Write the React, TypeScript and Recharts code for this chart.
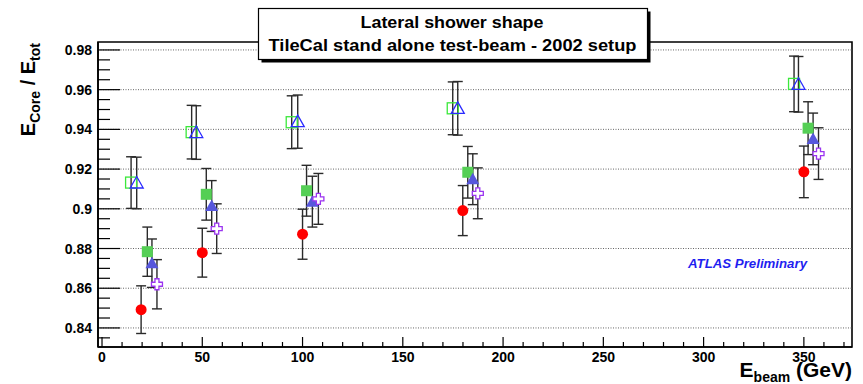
import React from 'react';
import {
  ScatterChart, Scatter, XAxis, YAxis, ErrorBar, ReferenceLine, ReferenceArea, Label,
} from 'recharts';

const FONT = '"Liberation Sans", Arial, Helvetica, sans-serif';

// beam energy (shifted per series for readability), ratio, error
const OPEN_SQ_X = [14.5, 44.7, 94.6, 174.9, 345.1];
const OPEN_SQ_Y = [0.9132, 0.9386, 0.9436, 0.9506, 0.9629];
const OPEN_SQ_ERR = [0.013, 0.0135, 0.0133, 0.0133, 0.014];

const OPEN_TRI_X = [17.3, 47.0, 97.6, 177.4, 347.3];
const OPEN_TRI_Y = [0.913, 0.9384, 0.9439, 0.9506, 0.9627];
const OPEN_TRI_ERR = [0.013, 0.0135, 0.0134, 0.0135, 0.014];

const FULL_SQ_X = [22.6, 52.0, 102.0, 182.4, 352.1];
const FULL_SQ_Y = [0.8784, 0.9073, 0.9091, 0.9184, 0.9406];
const FULL_SQ_ERR = [0.0124, 0.013, 0.0128, 0.013, 0.0133];

const FULL_TRI_X = [24.9, 54.7, 104.9, 184.9, 354.6];
const FULL_TRI_Y = [0.8726, 0.9014, 0.9036, 0.9149, 0.9352];
const FULL_TRI_ERR = [0.0122, 0.0128, 0.0128, 0.0128, 0.013];

const CROSS_X = [27.4, 57.2, 107.9, 187.4, 357.3];
const CROSS_Y = [0.862, 0.89, 0.905, 0.9078, 0.9278];
const CROSS_ERR = [0.0124, 0.0125, 0.0128, 0.0128, 0.013];

const CIRCLE_X = [19.5, 50.0, 100.0, 179.9, 350.0];
const CIRCLE_Y = [0.8492, 0.8779, 0.8872, 0.8991, 0.9186];
const CIRCLE_ERR = [0.012, 0.0123, 0.0126, 0.0126, 0.013];

const X_TICKS = [0, 10, 20, 30, 40, 50, 60, 70, 80, 90, 100, 110, 120, 130, 140, 150, 160, 170, 180, 190,
  200, 210, 220, 230, 240, 250, 260, 270, 280, 290, 300, 310, 320, 330, 340, 350, 360, 370];
const Y_TICKS = [0.835, 0.84, 0.845, 0.85, 0.855, 0.86, 0.865, 0.87, 0.875, 0.88, 0.885, 0.89, 0.895, 0.9,
  0.905, 0.91, 0.915, 0.92, 0.925, 0.93, 0.935, 0.94, 0.945, 0.95, 0.955, 0.96, 0.965, 0.97, 0.975, 0.98];
const Y_MAJOR = [0.84, 0.86, 0.88, 0.9, 0.92, 0.94, 0.96, 0.98];

const X_DOMAIN = [-2, 374];
const Y_DOMAIN = [0.8304, 0.984];

const toPoints = (xs: number[], ys: number[], errs: number[]) =>
  xs.map((x, i) => ({ x, y: ys[i], err: errs[i] }));

const XTick = (props: any) => {
  const { x, y, payload } = props;
  const v = payload.value;
  const major = v % 50 === 0;
  return (
    <g>
      <line x1={x} x2={x} y1={y} y2={y - (major ? 10 : 5)} stroke="#000" strokeWidth={1.2} />
      {major && (
        <text x={x} y={y + 15} textAnchor="middle" fontFamily={FONT} fontWeight="bold" fontSize={14} fill="#000">
          {v}
        </text>
      )}
    </g>
  );
};

const YTick = (props: any) => {
  const { x, y, payload } = props;
  const v = payload.value;
  const major = Y_MAJOR.includes(v);
  return (
    <g>
      <line x1={x} x2={x + (major ? 22 : 12)} y1={y} y2={y} stroke="#000" strokeWidth={1.2} />
      {major && (
        <text x={x - 6} y={y + 5} textAnchor="end" fontFamily={FONT} fontWeight="bold" fontSize={14} fill="#000">
          {String(v)}
        </text>
      )}
    </g>
  );
};

const YTitle = (props: any) => {
  const { x, y, width } = props.viewBox;
  const bx = x + width - 63;
  const by = y + 1;
  return (
    <text transform={`translate(${bx},${by}) rotate(-90)`} textAnchor="end"
      fontFamily={FONT} fontWeight="bold" fontSize={20} fill="#000">
      E<tspan fontSize={14} dy={5}>Core</tspan><tspan dy={-5}> / E</tspan><tspan fontSize={14} dy={5}>tot</tspan>
    </text>
  );
};

const XTitle = (props: any) => {
  const { x, y, width } = props.viewBox;
  return (
    <text x={x + width} y={y + 30} textAnchor="end" fontFamily={FONT} fontWeight="bold" fontSize={21} fill="#000">
      E<tspan fontSize={14} dy={5}>beam</tspan><tspan dy={-5}> (GeV)</tspan>
    </text>
  );
};

const OpenSquare = ({ cx, cy }: any) => (
  <rect x={cx - 5.5} y={cy - 5.5} width={11} height={11} fill="none" stroke="#3be83b" strokeWidth={1.3} />
);
const OpenTriangle = ({ cx, cy }: any) => (
  <path d={`M${cx},${cy - 6.5} L${cx + 6.5},${cy + 5} L${cx - 6.5},${cy + 5} Z`} fill="none" stroke="#2b2bff" strokeWidth={1.3} />
);
const FullSquare = ({ cx, cy }: any) => (
  <rect x={cx - 5.5} y={cy - 5.5} width={11} height={11} fill="#55cf55" />
);
const FullTriangle = ({ cx, cy }: any) => (
  <path d={`M${cx},${cy - 6.5} L${cx + 6.5},${cy + 5} L${cx - 6.5},${cy + 5} Z`} fill="#5757dc" />
);
const OpenCross = ({ cx, cy }: any) => {
  const a = 2, b = 5.5;
  const d = `M${cx - a},${cy - b} H${cx + a} V${cy - a} H${cx + b} V${cy + a} H${cx + a} V${cy + b} H${cx - a} V${cy + a} H${cx - b} V${cy - a} H${cx - a} Z`;
  return <path d={d} fill="#fff" stroke="#9b34f0" strokeWidth={1.3} />;
};
const FullCircle = ({ cx, cy }: any) => <circle cx={cx} cy={cy} r={5.5} fill="#ff0000" />;

const SERIES = [
  { name: 'openSquare', data: toPoints(OPEN_SQ_X, OPEN_SQ_Y, OPEN_SQ_ERR), shape: OpenSquare },
  { name: 'openTriangle', data: toPoints(OPEN_TRI_X, OPEN_TRI_Y, OPEN_TRI_ERR), shape: OpenTriangle },
  { name: 'fullSquare', data: toPoints(FULL_SQ_X, FULL_SQ_Y, FULL_SQ_ERR), shape: FullSquare },
  { name: 'fullCircle', data: toPoints(CIRCLE_X, CIRCLE_Y, CIRCLE_ERR), shape: FullCircle },
  { name: 'fullTriangle', data: toPoints(FULL_TRI_X, FULL_TRI_Y, FULL_TRI_ERR), shape: FullTriangle },
  { name: 'openCross', data: toPoints(CROSS_X, CROSS_Y, CROSS_ERR), shape: OpenCross },
];

export default function App() {
  return (
    <div style={{ position: 'absolute', left: 0, top: 0, width: 863, height: 384, background: '#fff' }}>
      <ScatterChart width={863} height={384} margin={{ top: 42, right: 11, bottom: 7, left: 38 }}>
        <XAxis type="number" dataKey="x" domain={X_DOMAIN} allowDataOverflow ticks={X_TICKS} interval={0}
          height={30} tickLine={false} tickSize={0} tickMargin={0} tick={<XTick />}
          axisLine={{ stroke: '#000', strokeWidth: 1.6 }}>
          <Label content={<XTitle />} />
        </XAxis>
        <YAxis type="number" dataKey="y" domain={Y_DOMAIN} allowDataOverflow ticks={Y_TICKS} interval={0}
          width={60} tickLine={false} tickSize={0} tickMargin={0} tick={<YTick />}
          axisLine={{ stroke: '#000', strokeWidth: 1.6 }}>
          <Label content={<YTitle />} />
        </YAxis>
        {Y_MAJOR.map((v) => (
          <ReferenceLine key={v} y={v} stroke="#666" strokeDasharray="1 1.5" strokeWidth={1} />
        ))}
        <ReferenceArea x1={X_DOMAIN[0]} x2={X_DOMAIN[1]} y1={Y_DOMAIN[0]} y2={Y_DOMAIN[1]}
          ifOverflow="visible" fill="none" fillOpacity={0} stroke="#000" strokeWidth={1.6} />
        {SERIES.map((s) => {
          const Shape = s.shape;
          return (
            <Scatter key={s.name} data={s.data} isAnimationActive={false}
              shape={(p: any) => <Shape cx={p.cx} cy={p.cy} />}>
              <ErrorBar dataKey="err" direction="y" width={5} stroke="#2a2a2a" strokeWidth={1.4} />
            </Scatter>
          );
        })}
      </ScatterChart>
      <svg width={863} height={384} style={{ position: 'absolute', left: 0, top: 0, pointerEvents: 'none' }}>
        <rect x={261.5} y={11.5} width={389} height={51} fill="#000" />
        <rect x={258.5} y={8.5} width={389} height={51} fill="#fff" stroke="#000" strokeWidth={1.2} />
        <text x={452} y={27.5} textAnchor="middle" fontFamily={FONT} fontWeight="bold" fontSize={17} fill="#000"
          textLength={183} lengthAdjust="spacingAndGlyphs">
          Lateral shower shape
        </text>
        <text x={452.5} y={51} textAnchor="middle" fontFamily={FONT} fontWeight="bold" fontSize={17} fill="#000"
          textLength={368} lengthAdjust="spacingAndGlyphs">
          TileCal stand alone test-beam - 2002 setup
        </text>
        <text x={688} y={268} fontFamily={FONT} fontWeight="bold" fontStyle="italic" fontSize={13} fill="#1f1ff0"
          textLength={119} lengthAdjust="spacingAndGlyphs">
          ATLAS Preliminary
        </text>
      </svg>
    </div>
  );
}
